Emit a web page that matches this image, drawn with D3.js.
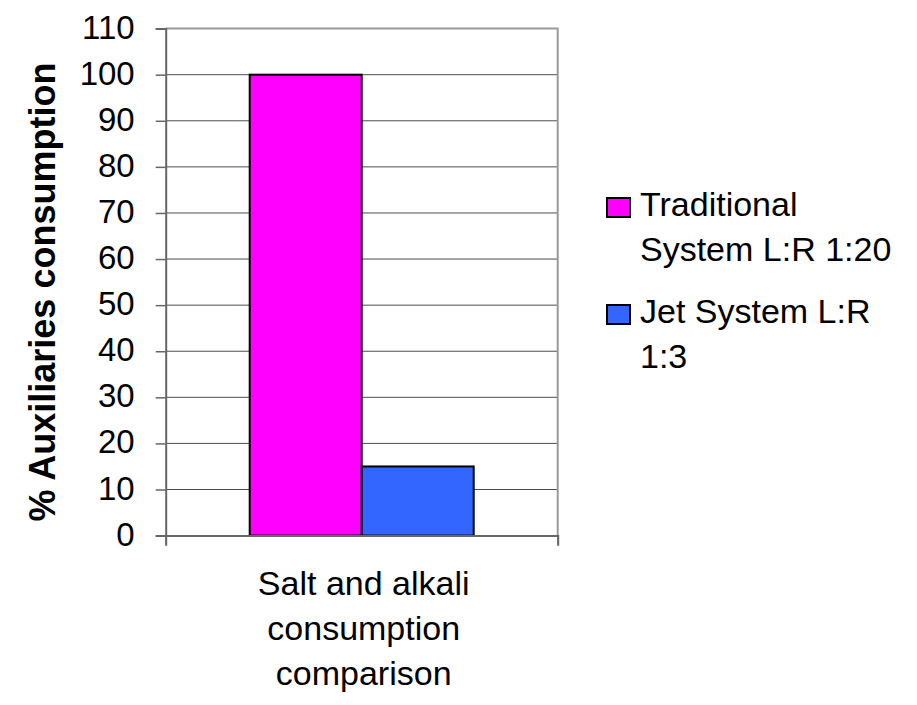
<!DOCTYPE html>
<meta charset="utf-8">
<script src="https://d3js.org/d3.v7.min.js"></script>
<style>
body { margin: 0; background: #fff; }
text { font-family: "Liberation Sans", Arial, sans-serif; }
</style>
<div id="chart"></div>
<script>

// data
var categories = ["Salt and alkali consumption comparison"];
var categoryLines = ["Salt and alkali", "consumption", "comparison"];
var series = ["Traditional System L:R 1:20", "Jet System L:R 1:3"];
var legendLines = [["Traditional", "System L:R 1:20"], ["Jet System L:R", "1:3"]];
var values = [100, 15];
var colors = ["#ff00ff", "#3366ff"];
var yTicks = [0, 10, 20, 30, 40, 50, 60, 70, 80, 90, 100, 110];

var margin = {top: 28.6, left: 165.7},
    width = 392,
    height = 507;

var svg = d3.select("#chart")
  .append("svg")
    .attr("width", 917)
    .attr("height", 705);

var g = svg.append("g")
    .attr("transform", "translate(" + margin.left + "," + margin.top + ")");

// scales
var y = d3.scaleLinear()
  .domain([0, 110])
  .range([height, 0]);

var x = d3.scaleBand()
  .domain(categories)
  .range([0, width])
  .paddingInner(0)
  .paddingOuter(0.375);

var xSub = d3.scaleBand()
  .domain(series)
  .range([0, x.bandwidth()]);

// gridlines
g.append("g")
  .selectAll("line")
  .data(yTicks.filter(function(d) { return d > 0 && d < 110; }))
  .enter().append("line")
    .attr("x1", 0)
    .attr("x2", width)
    .attr("y1", function(d) { return y(d); })
    .attr("y2", function(d) { return y(d); })
    .attr("stroke", "#4d4d4d")
    .attr("stroke-width", 1);

// plot border top + right
g.append("path")
  .attr("d", "M0," + y(110) + "H" + width + "V" + height)
  .attr("fill", "none")
  .attr("stroke", "#9a9a9a")
  .attr("stroke-width", 2);

// bars
var data = series.map(function(s, i) { return {series: s, value: values[i], color: colors[i]}; });

g.selectAll("rect.bar")
  .data(data)
  .enter().append("rect")
    .attr("class", "bar")
    .attr("x", function(d) { return x(categories[0]) + xSub(d.series); })
    .attr("y", function(d) { return y(d.value); })
    .attr("width", xSub.bandwidth())
    .attr("height", function(d) { return height - y(d.value); })
    .attr("fill", function(d) { return d.color; })
    .attr("stroke", "#000")
    .attr("stroke-width", 2);

// y axis
var yAxis = g.append("g")
  .call(d3.axisLeft(y).tickValues(yTicks).tickSize(10).tickPadding(21));

yAxis.select(".domain").attr("stroke", "#666").attr("stroke-width", 2);
yAxis.selectAll(".tick line").attr("stroke", "#666").attr("stroke-width", 1.5);
yAxis.selectAll(".tick text")
  .attr("font-size", 33)
  .attr("dy", "0.29em")
  .attr("fill", "#000")
  .style("font-family", "'Liberation Sans', Arial, sans-serif");

// x axis (edge ticks only)
var xEdge = d3.scaleLinear().domain([0, 1]).range([0, width]);
var xAxis = g.append("g")
  .attr("transform", "translate(0," + height + ")")
  .call(d3.axisBottom(xEdge).tickValues([0, 1]).tickSize(10).tickFormat(""));

xAxis.select(".domain").attr("stroke", "#666").attr("stroke-width", 2);
xAxis.selectAll(".tick line").attr("stroke", "#666").attr("stroke-width", 1.5);

// category label
g.append("text")
  .attr("text-anchor", "middle")
  .attr("font-size", 34)
  .selectAll("tspan")
  .data(categoryLines)
  .enter().append("tspan")
    .attr("x", x(categories[0]) + x.bandwidth() / 2 + 2)
    .attr("y", function(d, i) { return height + 59 + i * 45; })
    .text(function(d) { return d; });

// y axis title
svg.append("text")
  .attr("transform", "translate(55,292) rotate(-90)")
  .attr("text-anchor", "middle")
  .attr("font-size", 36)
  .attr("font-weight", "bold")
  .text("% Auxiliaries consumption");

// legend
var legend = svg.append("g")
  .selectAll("g")
  .data(series)
  .enter().append("g")
    .attr("transform", function(d, i) { return "translate(607," + (198 + i * 107) + ")"; });

legend.append("rect")
  .attr("width", 23)
  .attr("height", 19)
  .attr("fill", function(d, i) { return colors[i]; })
  .attr("stroke", "#000")
  .attr("stroke-width", 2);

legend.append("text")
  .attr("font-size", 34)
  .selectAll("tspan")
  .data(function(d, i) { return legendLines[i]; })
  .enter().append("tspan")
    .attr("x", 33)
    .attr("y", function(d, i) { return 18 + i * 45; })
    .text(function(d) { return d; });

</script>
